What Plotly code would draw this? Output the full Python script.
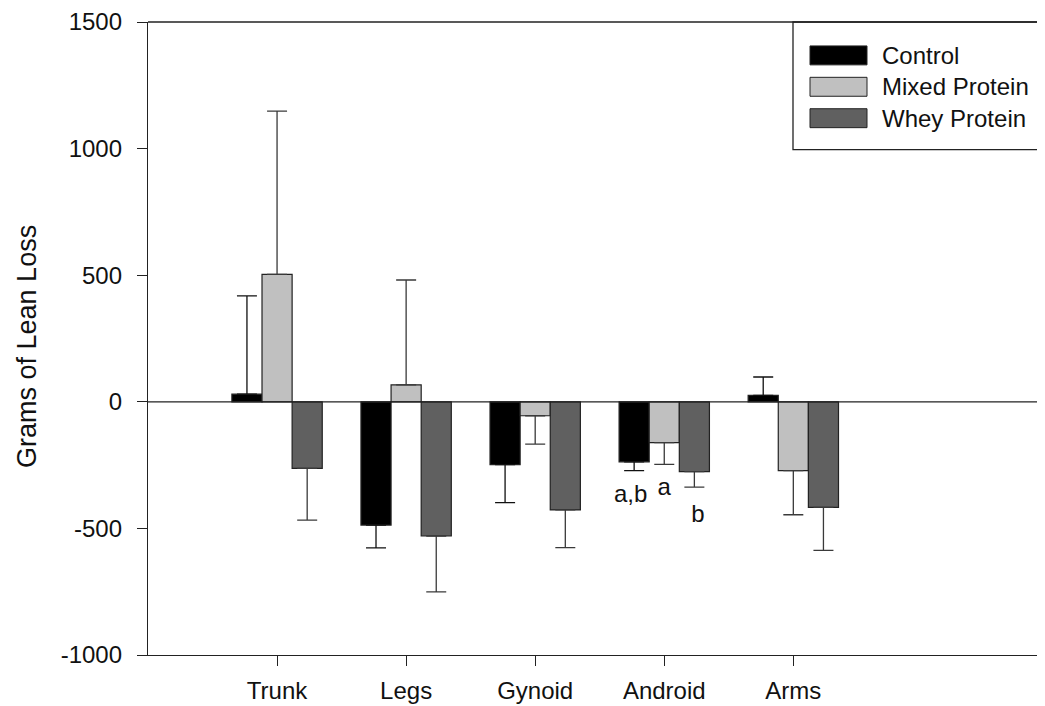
import plotly.graph_objects as go

categories = ["Trunk", "Legs", "Gynoid", "Android", "Arms"]
control = [30, -487, -248, -237, 25]
control_err = [388, 90, 150, 35, 73]
mixed = [503, 67, -55, -161, -272]
mixed_err = [645, 414, 112, 86, 174]
whey = [-263, -530, -427, -276, -417]
whey_err = [204, 221, 149, 61, 170]

y_tickvals = [-1000, -500, 0, 500, 1000, 1500]
y_ticktext = ["-1000", "-500", "0", "500", "1000", "1500"]

sig_labels = ["a,b", "a", "b"]
sig_x = [2.74, 3.0, 3.26]
sig_y = [-372, -345, -450]

# page has an 8px body margin; figure sized to fit the 1045x706 window
OFF = 8
W, H = 1045 - OFF, 706 - OFF
L, R, T = 148 - OFF, 0, 20 - OFF
B = H - (655 - OFF)
FONT = "Liberation Sans"
INK = "#111111"

def err(vals, errs, col):
    plus = [e if v >= 0 else 0 for v, e in zip(vals, errs)]
    minus = [e if v < 0 else 0 for v, e in zip(vals, errs)]
    return dict(type="data", symmetric=False, array=plus, arrayminus=minus,
                color=col, thickness=1.3, width=10)

fig = go.Figure()
for name, vals, errs, col, ecol in [("Control", control, control_err, "#000000", "#111111"),
                                    ("Mixed Protein", mixed, mixed_err, "#c0c0c0", "#3a3a3a"),
                                    ("Whey Protein", whey, whey_err, "#606060", "#3a3a3a")]:
    fig.add_trace(go.Bar(x=list(range(len(categories))), y=vals, name=name,
                         marker=dict(color=col, line=dict(color="#222222", width=1.2)),
                         error_y=err(vals, errs, ecol), showlegend=False))

fig.add_trace(go.Scatter(x=sig_x, y=sig_y, mode="text", text=sig_labels,
                         textfont=dict(size=24, color=INK, family=FONT),
                         showlegend=False, hoverinfo="skip"))

pw = W - L - R
ph = H - T - B
def px_x(p):
    return (p - OFF - L) / pw
def px_y(p):
    return (H - B - (p - OFF)) / ph

shapes = [
    dict(type="line", xref="paper", yref="paper", x0=0, x1=1.02, y0=1, y1=1,
         line=dict(color="#222222", width=1.3)),
    dict(type="line", xref="paper", yref="y", x0=0, x1=1.02, y0=0, y1=0,
         line=dict(color="#222222", width=1.3)),
    dict(type="rect", xref="paper", yref="paper", x0=px_x(793), x1=1.05,
         y0=px_y(148), y1=1, line=dict(color="#222222", width=1.3),
         fillcolor="rgba(0,0,0,0)"),
]
annotations = []
leg_items = [("Control", "#000000"), ("Mixed Protein", "#c0c0c0"), ("Whey Protein", "#606060")]
for i, (nm, col) in enumerate(leg_items):
    cy = 53.5 + 31.5 * i
    shapes.append(dict(type="rect", xref="paper", yref="paper",
                       x0=px_x(810), x1=px_x(867), y0=px_y(cy + 9.5), y1=px_y(cy - 9.5),
                       fillcolor=col, line=dict(color="#222222", width=1)))
    annotations.append(dict(xref="paper", yref="paper", x=px_x(880), y=px_y(cy),
                            xanchor="left", yanchor="middle", text=nm, showarrow=False,
                            font=dict(size=24, color=INK, family=FONT)))

# y-axis title
annotations.append(dict(xref="paper", yref="paper", x=px_x(27), y=px_y(345),
                        xanchor="center", yanchor="middle", textangle=-90,
                        text="Grams of Lean Loss", showarrow=False, borderpad=0,
                        font=dict(size=27, color=INK, family=FONT)))

fig.update_layout(
    width=W, height=H,
    margin=dict(l=L, r=R, t=T, b=B),
    paper_bgcolor="white", plot_bgcolor="white",
    barmode="group", bargap=0.30, bargroupgap=0,
    font=dict(family=FONT, size=24, color=INK),
    shapes=shapes, annotations=annotations,
    xaxis=dict(range=[-1, 5.95], tickmode="array", tickvals=list(range(len(categories))),
               ticktext=categories, ticks="outside", ticklen=10, tickcolor="#222222",
               showline=True, linecolor="#222222", linewidth=1.3, showgrid=False,
               zeroline=False, tickfont=dict(size=24), ticklabelstandoff=4),
    yaxis=dict(range=[-1000, 1500], tickmode="array", tickvals=y_tickvals,
               ticktext=y_ticktext, ticks="outside", ticklen=10,
               tickcolor="#222222", showline=True, linecolor="#222222", linewidth=1.3,
               showgrid=False, zeroline=False, tickfont=dict(size=24),
               ticklabelstandoff=10, ticklabeloverflow="allow"),
)

fig.write_html("out.html")
